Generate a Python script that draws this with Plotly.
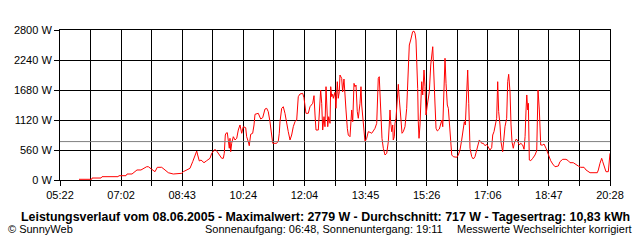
import plotly.graph_objects as go

# time in minutes since midnight, power in W
times_min = [353.3, 374.2, 374.7, 389.5, 391.2, 417.5, 419.2, 430.7, 432.4, 440.6,
             448.8, 455.4, 464.8, 467.5, 473.1, 478.5, 482.3, 489.5, 495.0, 500.4,
             508.6, 522.5, 525.1, 530.7, 536.1, 540.6, 544.4, 547.2, 548.8, 551.5,
             554.3, 559.2, 563.6, 569.1, 571.9, 574.5, 577.3, 580.1, 582.8, 585.6,
             588.4, 591.0, 592.6, 594.3, 595.4, 597.6, 599.2, 600.9, 602.0, 603.2,
             604.8, 607.5, 610.3, 613.1, 615.7, 618.5, 621.3, 623.9, 627.9, 629.5,
             632.2, 633.8, 636.1, 639.4, 641.6, 643.2, 648.6, 652.6, 655.9, 659.7,
             662.5, 665.1, 667.9, 670.7, 672.4, 678.9, 681.6, 683.2, 684.4, 687.2,
             689.8, 692.6, 695.4, 698.0, 700.9, 703.6, 706.3, 709.1, 711.9, 712.9,
             714.5, 717.3, 721.8, 723.9, 725.6, 727.2, 731.0, 733.8, 738.3, 740.4,
             742.1, 743.7, 747.5, 749.1, 751.4, 753.1, 754.7, 756.9, 758.5, 760.2,
             761.3, 763.0, 764.6, 766.8, 767.9, 769.6, 771.2, 772.2, 775.0, 776.6,
             778.8, 780.4, 782.1, 783.2, 786.0, 787.6, 789.8, 791.5, 793.1, 795.3,
             796.9, 799.7, 801.4, 802.5, 804.2, 805.1, 806.3, 807.9, 809.6, 811.7,
             813.4, 816.2, 817.8, 819.0, 820.6, 821.6, 824.4, 827.2, 829.8, 832.7,
             835.4, 838.1, 840.9, 843.7, 845.3, 846.3, 847.9, 849.1, 850.8, 852.4,
             854.6, 857.4, 860.2, 862.8, 864.4, 865.6, 866.7, 868.4, 870.1, 871.0,
             872.7, 873.8, 875.5, 877.6, 879.3, 880.4, 882.1, 883.7, 885.4, 887.5,
             890.3, 893.1, 894.7, 896.4, 897.4, 899.7, 901.3, 902.9, 905.1, 906.8,
             908.4, 909.6, 911.2, 912.2, 913.4, 915.0, 916.2, 917.8, 919.5, 920.5,
             921.6, 923.3, 924.9, 927.1, 928.7, 930.4, 932.7, 934.3, 936.0, 937.0,
             938.1, 939.8, 941.4, 943.6, 946.9, 949.2, 950.9, 952.5, 954.6, 956.2,
             957.9, 960.0, 961.7, 963.3, 965.6, 967.3, 969.9, 975.5, 978.1, 980.9,
             983.7, 986.4, 988.0, 989.7, 992.0, 993.6, 995.3, 996.3, 997.4, 1000.2,
             1002.8, 1005.6, 1008.4, 1011.0, 1012.7, 1015.0, 1016.6, 1019.3, 1022.1, 1024.9,
             1027.5, 1030.3, 1033.1, 1034.8, 1036.9, 1038.6, 1041.3, 1043.0, 1044.6, 1046.8,
             1048.4, 1051.2, 1053.4, 1055.0, 1057.8, 1059.5, 1061.1, 1063.3, 1064.9, 1066.6,
             1068.7, 1070.4, 1073.2, 1075.3, 1077.0, 1078.6, 1080.9, 1084.2, 1086.4, 1088.1,
             1089.7, 1090.9, 1092.5, 1093.5, 1095.1, 1097.4, 1100.7, 1104.5, 1107.3, 1108.3,
             1109.4, 1111.6, 1113.9, 1117.2, 1119.3, 1122.6, 1124.7, 1128.0, 1130.3, 1133.6,
             1137.4, 1142.8, 1145.6, 1150.1, 1155.5, 1159.3, 1162.1, 1167.5, 1170.3, 1175.8,
             1179.7, 1185.2, 1188.5, 1195.1, 1207.1, 1208.8, 1211.5, 1214.3, 1216.0, 1218.1,
             1221.4, 1225.2, 1226.8, 1228.0]

watts = [13, 13, 37, 37, 62, 62, 80, 80, 112, 112,
         187, 187, 248, 248, 200, 155, 237, 237, 187, 136,
         112, 125, 155, 187, 218, 342, 467, 541, 467, 355,
         373, 323, 360, 405, 498, 547, 573, 541, 498, 435,
         405, 405, 498, 840, 872, 883, 747, 592, 778, 528,
         685, 808, 747, 778, 933, 1027, 872, 995, 976, 808,
         715, 640, 853, 872, 1027, 1226, 1245, 1139, 1163, 1325,
         1338, 1275, 1088, 778, 685, 685, 728, 872, 1088, 1338,
         1368, 1245, 1027, 902, 747, 840, 995, 1088, 1120, 1400,
         1555, 1605, 1618, 1536, 1368, 1245, 1245, 1368, 1432, 1574,
         1213, 933, 933, 1245, 1680, 1432, 933, 1182, 995, 1742,
         1462, 995, 1182, 1058, 1742, 1555, 1600, 1525, 1637, 1338,
         1835, 1525, 1648, 1960, 1898, 1643, 1885, 1493, 1307, 965,
         840, 808, 1088, 1307, 1088, 1432, 1804, 1742, 1773, 1275,
         1152, 1432, 1742, 1400, 1213, 965, 715, 778, 902, 890,
         872, 915, 965, 1058, 1525, 1898, 1928, 1525, 1213, 778,
         592, 467, 498, 715, 1027, 1307, 1088, 902, 1027, 747,
         808, 1058, 1152, 1648, 1786, 1587, 1400, 1120, 872, 902,
         995, 1338, 1773, 2147, 2520, 2613, 2707, 2768, 2779, 2738,
         2613, 2333, 1712, 1088, 778, 1027, 1493, 1835, 1587, 1742,
         2053, 1742, 1213, 1400, 1555, 1648, 2147, 2302, 2488, 2208,
         1773, 1400, 965, 915, 952, 1027, 1120, 995, 1648, 2272,
         1805, 1400, 1338, 1027, 747, 467, 435, 424, 467, 560,
         747, 965, 1088, 1027, 1525, 2053, 1432, 1027, 592, 435,
         392, 435, 541, 653, 747, 715, 685, 685, 640, 666,
         603, 560, 603, 840, 902, 1027, 1152, 1835, 1275, 1027,
         715, 528, 778, 995, 1152, 1835, 1973, 1643, 1045, 709,
         592, 691, 760, 747, 691, 653, 685, 653, 573, 808,
         1307, 1587, 1307, 1432, 373, 360, 405, 467, 547, 1058,
         1680, 1307, 653, 653, 672, 592, 528, 467, 360, 299,
         248, 261, 342, 386, 386, 360, 323, 323, 299, 261,
         237, 237, 187, 136, 136, 187, 312, 405, 342, 248,
         155, 155, 312, 498]

average_w = 717
x_tick_labels = ["05:22", "07:02", "08:43", "10:24", "12:04",
                 "13:45", "15:26", "17:06", "18:47", "20:28"]
y_tick_vals = [0, 560, 1120, 1680, 2240, 2800]
y_tick_labels = ["0 W", "560 W", "1120 W", "1680 W", "2240 W", "2800 W"]

t_start, t_end = 322, 1228
n_grid = 18
step = (t_end - t_start) / n_grid
x_tick_vals = [t_start + i * step for i in range(n_grid + 1)]
x_tick_text = [x_tick_labels[i // 2] if i % 2 == 0 else "" for i in range(n_grid + 1)]

FONT = "Liberation Sans, Arial, sans-serif"

fig = go.Figure()
fig.add_trace(go.Scatter(x=times_min, y=watts, mode="lines",
                         line=dict(color="#ff0000", width=1),
                         hoverinfo="skip", showlegend=False))

fig.add_shape(type="line", xref="paper", x0=0, x1=1, yref="y",
              y0=average_w, y1=average_w,
              line=dict(color="#808080", width=1), layer="above")

fig.update_layout(
    width=640, height=240,
    margin=dict(l=60, r=30, t=30, b=60),
    paper_bgcolor="white", plot_bgcolor="white",
    font=dict(family=FONT, size=11, color="black"),
    showlegend=False,
    xaxis=dict(range=[t_start, t_end], tickmode="array",
               tickvals=x_tick_vals, ticktext=x_tick_text,
               showgrid=True, gridcolor="black", gridwidth=1,
               ticks="outside", ticklen=5, tickcolor="black", tickwidth=1,
               showline=True, linecolor="black", linewidth=1, mirror=True,
               zeroline=False, tickfont=dict(size=11, family=FONT)),
    yaxis=dict(range=[0, 2800], tickmode="array",
               tickvals=y_tick_vals, ticktext=y_tick_labels,
               showgrid=True, gridcolor="black", gridwidth=1,
               ticks="outside", ticklen=5, tickcolor="black", tickwidth=1,
               showline=True, linecolor="black", linewidth=1, mirror=True,
               zeroline=False, tickfont=dict(size=11, family=FONT)),
)

fig.add_annotation(text="<b>Leistungsverlauf vom 08.06.2005 - Maximalwert: 2779 W - Durchschnitt: 717 W - Tagesertrag: 10,83 kWh</b>",
                   xref="paper", yref="paper", x=(325 - 60) / 550, y=-(217 - 180) / 150,
                   xanchor="center", yanchor="middle", showarrow=False,
                   font=dict(family=FONT, size=12.4, color="black"))
fig.add_annotation(text="© SunnyWeb", xref="paper", yref="paper",
                   x=(6 - 60) / 550, y=-(229 - 180) / 150, xanchor="left", yanchor="middle",
                   showarrow=False, font=dict(family=FONT, size=11, color="black"))
fig.add_annotation(text="Sonnenaufgang: 06:48, Sonnenuntergang: 19:11", xref="paper", yref="paper",
                   x=(203 - 60) / 550, y=-(229 - 180) / 150, xanchor="left", yanchor="middle",
                   showarrow=False, font=dict(family=FONT, size=11, color="black"))
fig.add_annotation(text="Messwerte Wechselrichter korrigiert", xref="paper", yref="paper",
                   x=(634 - 60) / 550, y=-(229 - 180) / 150, xanchor="right", yanchor="middle",
                   showarrow=False, font=dict(family=FONT, size=11, color="black"))

fig.write_html("out.html", config={"displayModeBar": False})
